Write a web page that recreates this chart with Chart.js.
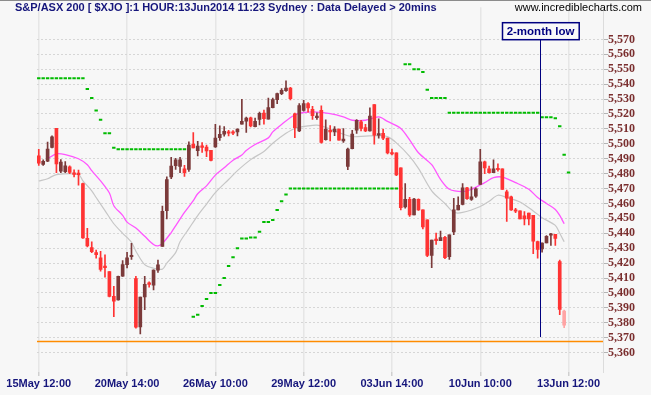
<!DOCTYPE html>
<html>
<head>
<meta charset="utf-8">
<script src="https://cdn.jsdelivr.net/npm/chart.js@4.4.1/dist/chart.umd.min.js"></script>
<style>
  html, body { margin: 0; padding: 0; background: #f7f7f7; }
  #wrap { width: 651px; height: 395px; }
</style>
</head>
<body>
<div id="wrap"><canvas id="chart" width="651" height="395"></canvas></div>
<script>
// S&P/ASX 200 hourly bars, index 0 = 15May 12:00, last bar = 13Jun 11:00 (still forming)
const opens = [
  5491.9, 5486.1, 5488.3, 5497.6, 5510.4, 5481.7, 5481.3, 5484.6, 5480.0, 5479.7,
  5473.3, 5436.7, 5430.5, 5427.0, 5423.6, 5417.5, 5414.4, 5397.8, 5395.4, 5411.3,
  5419.0, 5424.3, 5409.7, 5377.3, 5397.4, 5406.6, 5405.3, 5415.3, 5431.2, 5455.2,
  5477.8, 5485.3, 5484.8, 5483.3, 5482.8, 5499.8, 5495.4, 5498.5, 5497.8, 5495.6,
  5498.0, 5504.2, 5506.4, 5507.8, 5507.8, 5508.0, 5513.1, 5515.1, 5517.5, 5511.5,
  5516.4, 5520.6, 5516.6, 5524.3, 5529.6, 5533.6, 5535.6, 5537.4, 5520.1, 5508.7,
  5522.4, 5527.0, 5523.2, 5517.5, 5522.4, 5502.7, 5509.1, 5508.0, 5509.8, 5502.0,
  5484.8, 5496.7, 5509.1, 5514.8, 5510.9, 5508.7, 5526.3, 5505.8, 5507.1, 5503.8,
  5494.1, 5493.9, 5483.9, 5457.7, 5462.7, 5452.4, 5462.7, 5455.7, 5449.1, 5425.2,
  5435.8, 5435.1, 5437.3, 5424.3, 5440.9, 5455.7, 5459.4, 5470.5, 5462.7, 5464.9,
  5472.7, 5487.9, 5483.3, 5480.6, 5483.3, 5483.3, 5467.8, 5464.5, 5455.7, 5455.0,
  5451.7, 5453.5, 5452.1, 5434.5, 5429.6, 5433.6, 5438.7, 5439.3, 5421.0, 5387.9
];
const highs = [
  5496.3, 5489.2, 5501.2, 5505.4, 5510.4, 5489.5, 5488.1, 5485.3, 5482.6, 5482.4,
  5473.6, 5443.3, 5434.3, 5428.7, 5427.9, 5425.6, 5414.4, 5404.4, 5411.3, 5421.7,
  5427.2, 5433.2, 5411.1, 5397.2, 5411.1, 5407.5, 5415.5, 5422.1, 5458.3, 5477.8,
  5491.0, 5490.3, 5491.0, 5485.5, 5501.4, 5507.6, 5501.6, 5500.9, 5499.2, 5495.6,
  5513.1, 5512.0, 5511.5, 5509.1, 5508.9, 5510.0, 5529.9, 5517.9, 5517.9, 5517.3,
  5521.2, 5522.6, 5530.7, 5530.7, 5534.0, 5537.1, 5542.2, 5537.8, 5520.6, 5527.0,
  5529.2, 5527.6, 5525.2, 5520.8, 5525.4, 5516.0, 5512.2, 5511.5, 5509.8, 5510.2,
  5497.2, 5509.1, 5516.2, 5515.7, 5513.1, 5524.1, 5526.3, 5516.8, 5509.8, 5503.8,
  5496.5, 5493.9, 5483.9, 5473.3, 5464.1, 5463.4, 5463.1, 5455.7, 5449.1, 5435.4,
  5440.2, 5441.5, 5438.0, 5438.9, 5463.4, 5464.5, 5473.3, 5470.9, 5471.1, 5470.5,
  5496.3, 5488.4, 5485.0, 5489.2, 5486.6, 5483.3, 5468.9, 5464.9, 5456.8, 5455.0,
  5454.6, 5453.5, 5452.1, 5434.7, 5433.6, 5438.4, 5440.0, 5439.3, 5422.1, 5388.6
];
const lows = [
  5485.5, 5485.5, 5488.1, 5497.2, 5480.6, 5480.6, 5480.6, 5480.0, 5477.8, 5472.2,
  5436.5, 5430.9, 5427.0, 5423.4, 5414.6, 5410.6, 5397.4, 5384.1, 5395.2, 5411.1,
  5416.8, 5422.5, 5376.4, 5372.5, 5388.8, 5403.8, 5402.0, 5413.7, 5431.2, 5449.7,
  5476.6, 5482.8, 5480.6, 5478.2, 5481.5, 5497.2, 5491.9, 5494.3, 5491.4, 5488.6,
  5497.6, 5502.3, 5505.1, 5505.3, 5506.2, 5505.3, 5513.1, 5507.6, 5511.3, 5511.3,
  5512.6, 5513.1, 5516.6, 5524.1, 5527.0, 5533.0, 5535.2, 5529.4, 5504.2, 5508.2,
  5521.9, 5521.3, 5516.4, 5516.4, 5500.5, 5502.5, 5502.0, 5505.4, 5502.5, 5500.9,
  5482.6, 5496.5, 5506.9, 5508.7, 5508.2, 5508.4, 5499.8, 5503.8, 5502.7, 5493.2,
  5492.5, 5478.6, 5455.7, 5456.8, 5451.3, 5452.4, 5455.3, 5442.9, 5424.3, 5417.0,
  5432.5, 5435.1, 5423.0, 5422.5, 5439.1, 5455.7, 5459.0, 5462.7, 5462.1, 5464.1,
  5472.7, 5480.0, 5480.4, 5480.6, 5481.7, 5469.4, 5448.0, 5455.3, 5453.9, 5449.7,
  5445.7, 5445.7, 5426.3, 5423.4, 5427.4, 5433.6, 5431.8, 5431.8, 5385.5, 5376.8
];
const closes = [
  5487.0, 5488.3, 5496.5, 5504.7, 5486.6, 5487.7, 5485.3, 5480.8, 5479.5, 5479.3,
  5436.9, 5431.6, 5427.6, 5425.6, 5415.7, 5417.0, 5397.6, 5394.5, 5411.1, 5419.0,
  5423.6, 5425.0, 5377.1, 5397.2, 5405.8, 5405.8, 5415.3, 5418.8, 5454.8, 5476.0,
  5485.0, 5489.2, 5489.2, 5480.6, 5499.2, 5497.2, 5498.5, 5497.6, 5495.2, 5488.8,
  5503.8, 5506.4, 5508.4, 5507.1, 5507.1, 5509.8, 5515.1, 5517.3, 5512.0, 5515.1,
  5520.4, 5516.8, 5524.3, 5529.6, 5533.6, 5535.8, 5537.4, 5530.3, 5510.9, 5525.7,
  5527.0, 5524.1, 5518.8, 5518.6, 5500.9, 5509.8, 5508.0, 5509.8, 5502.5, 5503.1,
  5496.5, 5506.5, 5515.8, 5510.4, 5508.7, 5518.6, 5505.8, 5506.5, 5503.8, 5493.9,
  5493.2, 5479.1, 5457.2, 5462.7, 5452.4, 5463.0, 5455.7, 5444.2, 5425.2, 5435.4,
  5435.1, 5437.1, 5423.7, 5438.9, 5455.7, 5458.8, 5470.5, 5463.2, 5464.5, 5469.8,
  5487.9, 5483.9, 5480.6, 5483.3, 5482.6, 5469.4, 5463.6, 5455.7, 5454.8, 5449.7,
  5449.7, 5449.7, 5434.7, 5429.2, 5433.4, 5438.0, 5439.6, 5436.5, 5389.0, 5378.4
];

// moving averages (bar index -> value)
const pinkMaIdx = [2, 4, 6, 9, 11, 12, 14, 16, 17, 19, 20, 22, 24, 26, 27, 28, 30, 31, 33, 35,
  36, 38, 40, 42, 44, 46, 47, 49, 52, 53, 55, 58, 60, 63, 66, 69, 71, 74, 77, 79,
  82, 84, 86, 89, 91, 93, 96, 98, 101, 103, 105, 108, 111, 113, 115, 117, 118, 119];
const pinkMaVal = [5490.0, 5493.3, 5492.8, 5490.0, 5486.0, 5482.0, 5475.1, 5467.0, 5458.5, 5452.0,
  5447.5, 5443.5, 5438.0, 5432.5, 5431.6, 5433.2, 5440.5, 5445.0, 5454.0, 5461.9,
  5466.5, 5471.8, 5479.0, 5483.9, 5489.0, 5492.5, 5495.5, 5499.5, 5504.0, 5508.0,
  5513.0, 5519.5, 5521.0, 5521.3, 5520.2, 5518.0, 5515.8, 5515.8, 5518.0, 5515.0,
  5510.3, 5502.6, 5494.0, 5486.0, 5476.1, 5469.5, 5468.0, 5469.5, 5474.0, 5477.3,
  5477.7, 5474.0, 5469.5, 5464.0, 5460.0, 5456.0, 5452.0, 5446.4];
const greyMaIdx = [0, 2, 4, 9, 10, 12, 13, 15, 17, 19, 21, 22, 24, 26, 28, 29, 31, 32, 34, 36,
  38, 40, 43, 45, 48, 51, 53, 56, 58, 61, 63, 65, 68, 71, 74, 77, 79, 81, 84, 86,
  89, 92, 94, 96, 100, 102, 104, 106, 109, 112, 114, 117, 118, 119];
const greyMaVal = [5475.1, 5476.6, 5479.4, 5479.4, 5475.1, 5468.5, 5464.0, 5455.2, 5446.4, 5440.0,
  5434.0, 5428.0, 5419.0, 5416.6, 5416.0, 5420.0, 5427.0, 5434.3, 5443.1, 5451.9,
  5459.6, 5467.3, 5476.1, 5482.0, 5489.4, 5494.9, 5500.4, 5507.0, 5510.3, 5512.0,
  5512.5, 5511.0, 5507.5, 5504.8, 5505.2, 5505.5, 5504.8, 5500.6, 5491.6, 5483.5,
  5468.5, 5460.0, 5454.1, 5454.0, 5458.0, 5461.5, 5465.5, 5464.0, 5461.0, 5455.0,
  5450.5, 5445.3, 5440.0, 5434.3];

// trailing stop dots, bars 0..120 (the last one is projected one bar ahead)
const stopLevels = [
  5544.0, 5544.0, 5544.0, 5544.0, 5544.0, 5544.0, 5544.0, 5544.0, 5544.0, 5544.0,
  5544.0, 5536.7, 5530.8, 5522.4, 5516.2, 5507.0, 5507.0, 5497.3, 5496.4, 5496.4,
  5496.4, 5496.4, 5496.4, 5496.4, 5496.4, 5496.4, 5496.4, 5496.4, 5496.4, 5496.4,
  5496.4, 5496.4, 5496.4, 5496.4, 5496.4, 5384.0, 5385.4, 5391.3, 5396.0, 5400.0,
  5400.0, 5405.3, 5410.0, 5418.0, 5423.9, 5429.9, 5436.5, 5436.5, 5437.1, 5437.1,
  5441.0, 5447.6, 5447.6, 5449.0, 5455.6, 5461.5, 5466.0, 5470.1, 5470.1, 5470.1,
  5470.1, 5470.1, 5470.1, 5470.1, 5470.1, 5470.1, 5470.1, 5470.1, 5470.1, 5470.1,
  5470.1, 5470.1, 5470.1, 5470.1, 5470.1, 5470.1, 5470.1, 5470.1, 5470.1, 5470.1,
  5470.1, 5470.1, 5470.1, 5553.3, 5553.3, 5550.0, 5550.0, 5548.2, 5536.3, 5530.8,
  5530.8, 5530.8, 5530.8, 5520.9, 5520.9, 5520.9, 5520.9, 5520.9, 5520.9, 5520.9,
  5520.9, 5520.9, 5520.9, 5520.9, 5520.9, 5520.9, 5520.9, 5520.9, 5520.9, 5520.9,
  5520.9, 5520.9, 5520.9, 5520.9, 5517.8, 5517.8, 5517.8, 5517.1, 5511.8, 5492.6,
  5480.8
];

const xTickIdx = [0, 20, 40, 60, 80, 100, 120];
const xTickLabels = ['15May 12:00', '20May 14:00', '26May 10:00', '29May 12:00', '03Jun 14:00', '10Jun 10:00', '13Jun 12:00'];
const yTicks = [5360, 5370, 5380, 5390, 5400, 5410, 5420, 5430, 5440, 5450, 5460,
  5470, 5480, 5490, 5500, 5510, 5520, 5530, 5540, 5550, 5560, 5570];

const supportLevel = 5368;      // orange line
const lowMarkerAt = 113.6;      // "2-month low" marker, bar position
const lowMarkerFloor = 5370.4;

const titleText = 'S&P/ASX 200 [ $XJO ]:1 HOUR:13Jun2014 11:23 Sydney : Data Delayed > 20mins';
const siteText = 'www.incrediblecharts.com';

(() => {
  const SANS = "'Liberation Sans', Arial, sans-serif";
  const NAVY = '#16167c';
  const upCol = '#7b3a3a';
  const downCol = '#ff3333';
  const liveCol = '#ffa4a4';

  const n = closes.length;
  const idx = closes.map((_, i) => i);
  const barCol = idx.map((i) => (i === n - 1 ? liveCol : closes[i] >= opens[i] ? upCol : downCol));

  // background, border, title, orange support line and the annotation
  const decor = {
    id: 'decor',
    beforeDraw(chart) {
      const ctx = chart.ctx;
      ctx.save();
      ctx.fillStyle = '#f7f7f7';
      ctx.fillRect(0, 0, chart.width, chart.height);
      ctx.fillStyle = '#8c8c8c';
      ctx.fillRect(0, 0, chart.width, 1);
      ctx.restore();
    },
    beforeDatasetsDraw(chart) {
      const { ctx, chartArea: ca, scales: { y } } = chart;
      const py = Math.round(y.getPixelForValue(supportLevel)) + 0.5;
      ctx.save();
      ctx.strokeStyle = '#ff8c00';
      ctx.lineWidth = 1.5;
      ctx.beginPath();
      ctx.moveTo(ca.left, py);
      ctx.lineTo(ca.right, py);
      ctx.stroke();
      ctx.restore();
    },
    afterDraw(chart) {
      const { ctx, chartArea: ca, scales: { x, y } } = chart;
      ctx.save();
      ctx.textBaseline = 'alphabetic';
      ctx.font = 'bold 11px ' + SANS;
      ctx.fillStyle = NAVY;
      ctx.textAlign = 'left';
      ctx.fillText(titleText, 15, 11);
      ctx.font = '11px ' + SANS;
      ctx.fillStyle = '#000';
      ctx.textAlign = 'right';
      ctx.fillText(siteText, 642, 11);

      // 2-month low marker
      const lx = Math.round(x.getPixelForValue(lowMarkerAt)) + 0.5;
      ctx.font = 'bold 11.5px ' + SANS;
      const label = '2-month low';
      const w = ctx.measureText(label).width + 9;
      const bx = Math.round(lx - w / 2) + 0.5;
      const by = ca.top + 15.5;
      const bh = 17;
      ctx.strokeStyle = '#000080';
      ctx.lineWidth = 1;
      ctx.beginPath();
      ctx.moveTo(lx, by + bh);
      ctx.lineTo(lx, y.getPixelForValue(lowMarkerFloor));
      ctx.stroke();
      ctx.fillStyle = '#f9f9f9';
      ctx.fillRect(bx, by, w, bh);
      ctx.lineWidth = 1.5;
      ctx.strokeRect(bx, by, w, bh);
      ctx.fillStyle = '#000080';
      ctx.textAlign = 'center';
      ctx.textBaseline = 'middle';
      ctx.fillText(label, lx, by + bh / 2 + 1);
      ctx.restore();
    }
  };

  new Chart(document.getElementById('chart'), {
    type: 'bar',
    data: {
      datasets: [
        {
          type: 'bar',
          data: idx.map((i) => ({ x: i, y: [lows[i], highs[i]] })),
          backgroundColor: barCol,
          borderWidth: 0,
          barThickness: 1,
          grouped: false,
          order: 1
        },
        {
          type: 'bar',
          data: idx.map((i) => ({ x: i, y: [opens[i], closes[i]] })),
          backgroundColor: barCol,
          borderWidth: 0,
          barThickness: 3,
          minBarLength: 1.5,
          grouped: false,
          order: 0
        },
        {
          type: 'line',
          data: stopLevels.map((v, i) => ({ x: i, y: v })),
          showLine: false,
          pointStyle: 'line',
          pointRadius: 1.7,
          pointBorderWidth: 2,
          borderColor: '#00bb00',
          backgroundColor: '#00bb00',
          order: 2
        },
        {
          type: 'line',
          data: pinkMaIdx.map((i, k) => ({ x: i, y: pinkMaVal[k] })),
          borderColor: '#ff55ff',
          borderWidth: 1.3,
          pointRadius: 0,
          tension: 0.3,
          order: 3
        },
        {
          type: 'line',
          data: greyMaIdx.map((i, k) => ({ x: i, y: greyMaVal[k] })),
          borderColor: '#c6c6c6',
          borderWidth: 1.2,
          pointRadius: 0,
          tension: 0.3,
          order: 4
        }
      ]
    },
    options: {
      responsive: false,
      animation: false,
      devicePixelRatio: 1,
      events: [],
      layout: { padding: { left: 37, top: 2, right: 0, bottom: 0 } },
      plugins: { legend: { display: false }, tooltip: { enabled: false } },
      scales: {
        x: {
          type: 'linear',
          min: -0.4,
          max: 127.8,
          offset: false,
          border: { display: false },
          grid: { offset: false, color: '#e6e6e6', lineWidth: 1.5, tickLength: 4, tickColor: '#cfcfcf' },
          afterBuildTicks: (axis) => { axis.ticks = xTickIdx.map((v) => ({ value: v })); },
          afterFit: (axis) => { axis.height = 23; },
          ticks: {
            autoSkip: false,
            maxRotation: 0,
            padding: 1,
            color: NAVY,
            font: { family: SANS, size: 11, weight: 'bold' },
            callback: (v) => xTickLabels[xTickIdx.indexOf(v)]
          }
        },
        y: {
          position: 'right',
          min: 5347.0,
          max: 5591.6,
          border: { display: true, color: '#dcdcdc', dash: [2, 2] },
          grid: { color: '#d6d6d6', tickLength: 5, tickColor: '#b4b4b4', tickBorderDash: [] },
          afterBuildTicks: (axis) => { axis.ticks = yTicks.map((v) => ({ value: v })); },
          afterFit: (axis) => { axis.width = 48; },
          ticks: {
            autoSkip: false,
            padding: 0,
            color: '#7a2e2e',
            font: { family: "'Liberation Serif', 'Times New Roman', serif", size: 12, weight: 'bold' },
            callback: (v) => v.toLocaleString('en-US')
          }
        }
      }
    },
    plugins: [decor]
  });
})();
</script>
</body>
</html>
